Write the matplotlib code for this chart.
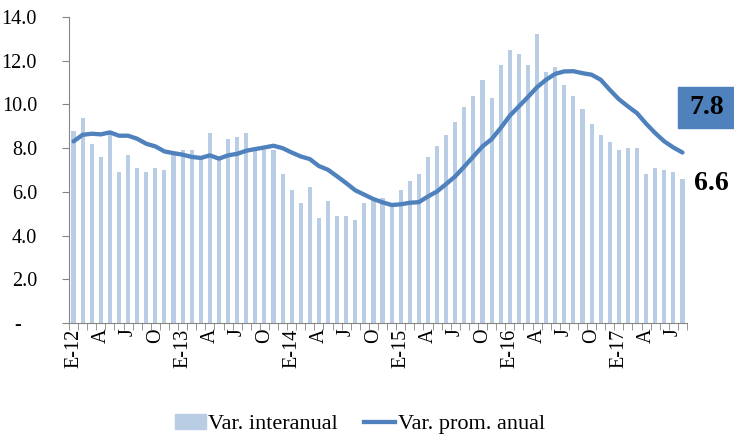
import numpy as np
from matplotlib import pyplot as plt
from matplotlib.patches import Rectangle
from matplotlib.lines import Line2D
from matplotlib.patches import Patch

plt.rcParams['font.family'] = ['Liberation Serif', 'DejaVu Serif']

# datos mensuales ene-2012 .. ago-2017
var_interanual = [
    8.8, 9.4, 8.2, 7.6, 8.7, 6.9, 7.7, 7.1, 6.9, 7.1, 7.0, 7.7,
    7.9, 7.9, 7.6, 8.7, 7.6, 8.4, 8.5, 8.7, 7.9, 7.9, 7.9, 6.8,
    6.1, 5.5, 6.2, 4.8, 5.6, 4.9, 4.9, 4.7, 5.5, 5.7, 5.7, 5.4,
    6.1, 6.5, 6.8, 7.6, 8.1, 8.6, 9.2, 9.9, 10.4, 11.1, 10.3, 11.8,
    12.5, 12.3, 11.8, 13.2, 11.5, 11.7, 10.9, 10.4, 9.8, 9.1, 8.6, 8.3,
    7.9, 8.0, 8.0, 6.8, 7.1, 7.0, 6.9, 6.6,
]
var_prom_anual = [
    8.31, 8.61, 8.66, 8.63, 8.72, 8.57, 8.57, 8.43, 8.20, 8.08, 7.85, 7.77,
    7.70, 7.60, 7.55, 7.67, 7.52, 7.67, 7.74, 7.88, 7.96, 8.03, 8.11, 8.00,
    7.80, 7.62, 7.50, 7.18, 7.01, 6.71, 6.40, 6.07, 5.87, 5.67, 5.52, 5.40,
    5.43, 5.50, 5.53, 5.79, 6.02, 6.36, 6.71, 7.16, 7.62, 8.08, 8.41, 8.92,
    9.48, 9.91, 10.34, 10.79, 11.13, 11.40, 11.51, 11.52, 11.43, 11.36, 11.13, 10.67,
    10.24, 9.91, 9.60, 9.12, 8.69, 8.31, 8.03, 7.80,
]
meses = ['E', 'F', 'M', 'A', 'M', 'J', 'J', 'A', 'S', 'O', 'N', 'D']
anios = [12, 13, 14, 15, 16, 17]
yticks = [0, 2, 4, 6, 8, 10, 12, 14]

etiquetas = []
for a in anios:
    for m in meses:
        etiquetas.append(f"{m}-{a}" if m == 'E' and len(etiquetas) % 12 == 0 else m)
etiquetas = etiquetas[:len(var_interanual)]

c_barra = "#B9CDE5"
c_linea = "#4F81BD"
c_eje = "#868686"

fig = plt.figure(figsize=(7.34, 4.38), dpi=100)
ax = fig.add_axes([69 / 734, 1 - 323 / 438, 618 / 734, 306 / 438])

x = np.arange(len(var_interanual))
ax.bar(x, var_interanual, width=0.45, color=c_barra)
ax.plot(x, var_prom_anual, color=c_linea, lw=3.1, solid_capstyle='round')

ax.set_xlim(-0.5, len(x) - 0.5)
ax.set_ylim(0, 14)

# eje x: etiquetas cada trimestre, marcas entre meses
ax.set_xticks(x[::3])
ax.set_xticklabels(etiquetas[::3], rotation=90, fontsize=14.5)
ax.tick_params(axis='x', which='major', length=0, pad=4)
ax.set_xticks(np.arange(len(x) + 1) - 0.5, minor=True)
ax.tick_params(axis='x', which='minor', length=5, color=c_eje, direction='out')

ax.set_yticks(yticks)
ax.set_yticklabels([f"{v:.1f}" if v else "-   " for v in yticks], fontsize=14.5)
ax.tick_params(axis='y', length=5, color=c_eje, pad=18)

for s in ['top', 'right']:
    ax.spines[s].set_visible(False)
for s in ['left', 'bottom']:
    ax.spines[s].set_color(c_eje)

# recuadro con el ultimo dato del promedio
fig.patches.append(Rectangle((678 / 734, 1 - 128 / 438), 60 / 734, 41 / 438,
                             transform=fig.transFigure, color=c_linea))
fig.text(707 / 734, 1 - 108 / 438, f"{var_prom_anual[-1]:.1f}", fontsize=20,
         fontweight='bold', ha='center', va='center')
fig.text(711 / 734, 1 - 183 / 438, f"{var_interanual[-1]:.1f}", fontsize=20,
         fontweight='bold', ha='center', va='center')

handles = [Patch(color=c_barra), Line2D([], [], color=c_linea, lw=3.1)]
fig.legend(handles, ["Var. interanual", "Var. prom. anual"], loc='center',
           bbox_to_anchor=(0.49, 1 - 424 / 438), ncol=2, frameon=False,
           fontsize=16, handlelength=1.4, handletextpad=0.1, columnspacing=1.2)

fig.savefig("out.png", dpi=100)
